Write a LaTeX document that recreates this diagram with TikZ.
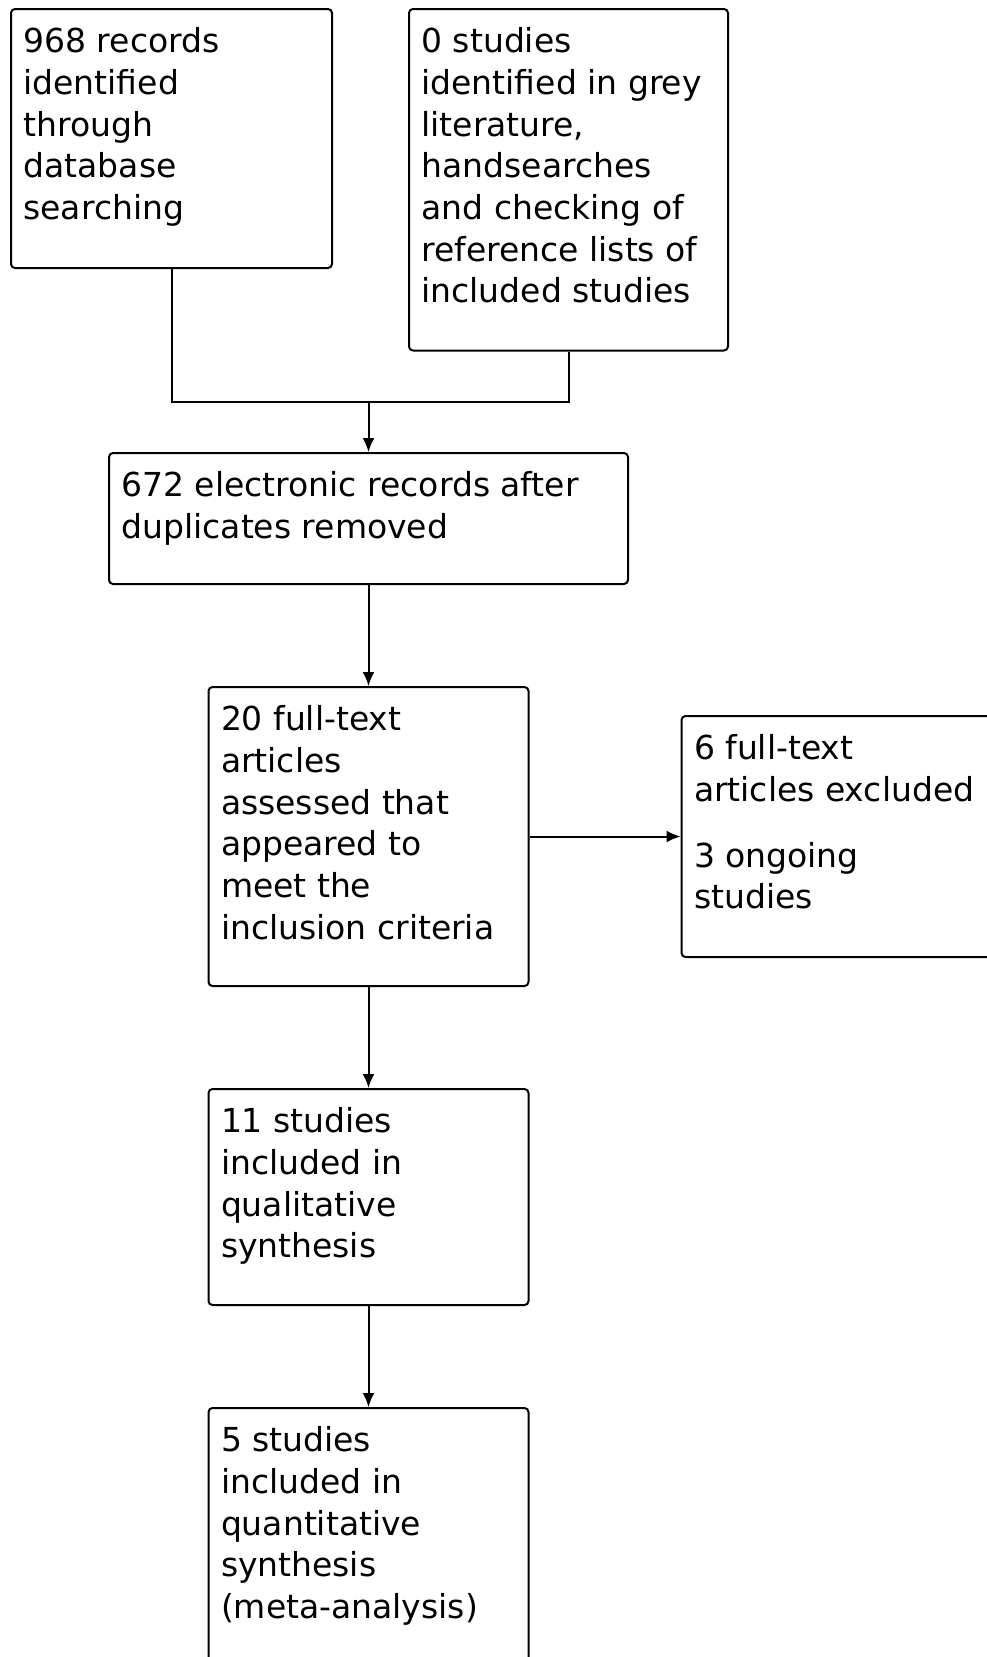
\documentclass[tikz,border=0pt]{standalone}
\usepackage{fontspec}
\setmainfont{DejaVu Sans}
\usepackage{tikz}
\usetikzlibrary{positioning}
\usetikzlibrary{arrows.meta}

% box content: width, height, text
\newcommand{\boxtxt}[3]{\parbox[c][#2][t]{#1}{\raggedright\strut #3}}

\begin{document}
\begin{tikzpicture}[x=1pt, y=-1pt,
		flowbox/.style={draw, rounded corners=4pt, inner xsep=12.5pt, inner ysep=14.5pt},
		flowline/.style={line width=2pt},
		every node/.style={font=\fontsize{33}{41.7}\selectfont}]
	\useasboundingbox (0,0) rectangle (987,1657);
	\node [flowbox, flowline, anchor=north west] at (10,8) (records)
		{\boxtxt{296pt}{230pt}{968 records\\identified\\through\\database\\searching}};
	\node [flowbox, flowline, anchor=north west] at (408,8) (grey)
		{\boxtxt{294pt}{312.5pt}{0 studies\\identified in grey\\literature,\\handsearches\\and checking of\\reference lists of\\included studies}};
	\coordinate (merge) at (368.5,402);
	\node [flowbox, flowline, below=50pt of merge] (dedup)
		{\boxtxt{494pt}{102pt}{672 electronic records after\\duplicates removed}};
	\node [flowbox, flowline, below=101pt of dedup] (fulltext)
		{\boxtxt{295pt}{270pt}{20 full-text\\articles\\assessed that\\appeared to\\meet the\\inclusion criteria}};
	\node [flowbox, flowline, right=151pt of fulltext] (excluded)
		{\boxtxt{295pt}{212pt}{6 full-text\\articles excluded\\[24pt]3 ongoing\\studies}};
	\node [flowbox, flowline, below=101pt of fulltext] (qualitative)
		{\boxtxt{295pt}{187pt}{11 studies\\included in\\qualitative\\synthesis}};
	\node [flowbox, flowline, below=101pt of qualitative] (quantitative)
		{\boxtxt{295pt}{230pt}{5 studies\\included in\\quantitative\\synthesis\\(meta-analysis)}};
	\draw [flowline] (records.south) |- (merge);
	\draw [flowline] (grey.south) |- (merge);
	\path [flowline, -{Latex[length=14pt,width=12pt]}]
		(merge) edge [] (dedup)
		(dedup) edge [] (fulltext)
		(fulltext) edge [] (excluded)
		(fulltext) edge [] (qualitative)
		(qualitative) edge [] (quantitative);
\end{tikzpicture}
\end{document}
